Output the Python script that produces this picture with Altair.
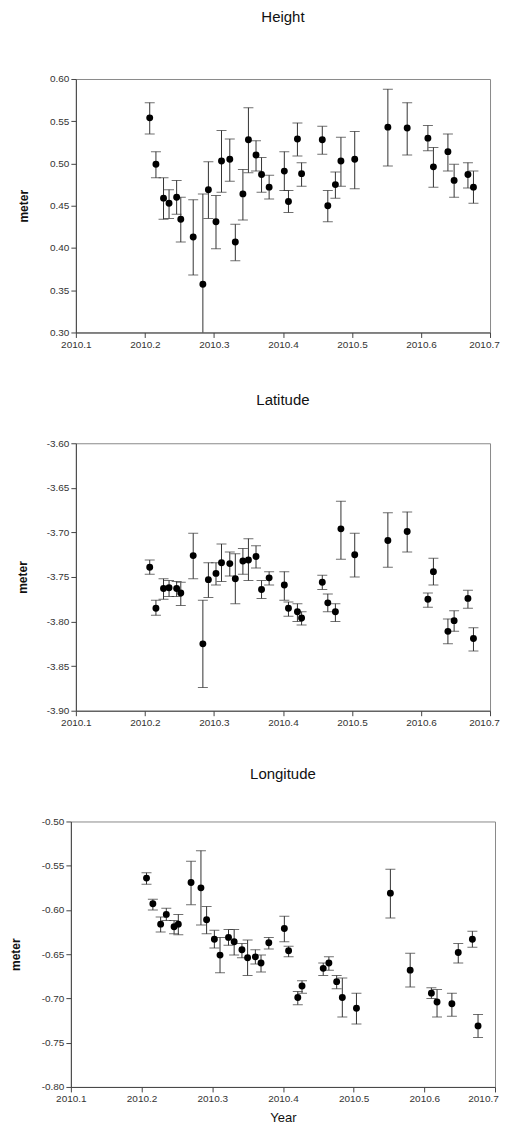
import altair as alt
import pandas as pd

# ---- data ----
years = [2010.207, 2010.216, 2010.227, 2010.235, 2010.246, 2010.252, 2010.270, 2010.284,
         2010.292, 2010.303, 2010.311, 2010.323, 2010.331, 2010.342, 2010.350, 2010.361,
         2010.369, 2010.380, 2010.402, 2010.408, 2010.421, 2010.427, 2010.457, 2010.465,
         2010.476, 2010.484, 2010.504, 2010.552, 2010.580, 2010.610, 2010.618, 2010.639,
         2010.648, 2010.668, 2010.676]

height = [0.554, 0.499, 0.459, 0.453, 0.460, 0.434, 0.413, 0.357, 0.469, 0.431, 0.503, 0.505,
          0.407, 0.464, 0.528, 0.510, 0.487, 0.472, 0.491, 0.455, 0.529, 0.488, 0.528, 0.450,
          0.475, 0.503, 0.505, 0.543, 0.542, 0.530, 0.496, 0.514, 0.480, 0.487, 0.472]
height_hi = [0.572, 0.514, 0.483, 0.469, 0.480, 0.460, 0.457, 0.464, 0.502, 0.462, 0.539, 0.529,
             0.428, 0.493, 0.566, 0.527, 0.507, 0.486, 0.514, 0.468, 0.548, 0.501, 0.544, 0.468,
             0.490, 0.531, 0.538, 0.588, 0.572, 0.545, 0.519, 0.535, 0.499, 0.501, 0.491]
height_lo = [0.535, 0.483, 0.434, 0.435, 0.440, 0.407, 0.368, 0.250, 0.435, 0.399, 0.466, 0.479,
             0.385, 0.433, 0.489, 0.491, 0.466, 0.458, 0.468, 0.442, 0.509, 0.473, 0.511, 0.431,
             0.459, 0.473, 0.470, 0.497, 0.510, 0.515, 0.472, 0.491, 0.460, 0.471, 0.453]

lat = [-3.739, -3.785, -3.763, -3.762, -3.763, -3.768, -3.726, -3.825, -3.753, -3.746, -3.734,
       -3.735, -3.752, -3.732, -3.731, -3.727, -3.764, -3.751, -3.759, -3.785, -3.789, -3.796,
       -3.756, -3.779, -3.789, -3.696, -3.725, -3.709, -3.699, -3.775, -3.744, -3.811, -3.799,
       -3.774, -3.819]
lat_hi = [-3.731, -3.776, -3.752, -3.754, -3.755, -3.756, -3.701, -3.776, -3.734, -3.734, -3.713,
          -3.722, -3.724, -3.718, -3.707, -3.715, -3.754, -3.744, -3.744, -3.778, -3.780, -3.789,
          -3.748, -3.769, -3.780, -3.665, -3.701, -3.678, -3.677, -3.768, -3.729, -3.797, -3.788,
          -3.765, -3.807]
lat_lo = [-3.747, -3.793, -3.775, -3.772, -3.772, -3.782, -3.752, -3.874, -3.773, -3.759, -3.755,
          -3.749, -3.780, -3.747, -3.754, -3.740, -3.774, -3.759, -3.776, -3.794, -3.800, -3.804,
          -3.764, -3.789, -3.800, -3.730, -3.750, -3.739, -3.722, -3.784, -3.759, -3.825, -3.811,
          -3.785, -3.833]

lon = [-0.564, -0.593, -0.616, -0.605, -0.619, -0.616, -0.569, -0.575, -0.611, -0.633, -0.651,
       -0.631, -0.636, -0.645, -0.654, -0.653, -0.660, -0.637, -0.621, -0.646, -0.699, -0.686,
       -0.666, -0.660, -0.681, -0.699, -0.711, -0.581, -0.668, -0.694, -0.704, -0.706, -0.648,
       -0.633, -0.731]
lon_hi = [-0.558, -0.588, -0.608, -0.598, -0.612, -0.605, -0.545, -0.533, -0.596, -0.623, -0.631,
          -0.622, -0.622, -0.638, -0.634, -0.645, -0.651, -0.631, -0.607, -0.641, -0.692, -0.680,
          -0.660, -0.653, -0.674, -0.677, -0.694, -0.554, -0.649, -0.688, -0.690, -0.694, -0.638,
          -0.624, -0.718]
lon_lo = [-0.571, -0.600, -0.625, -0.612, -0.627, -0.628, -0.594, -0.617, -0.627, -0.643, -0.671,
          -0.640, -0.651, -0.654, -0.674, -0.661, -0.670, -0.644, -0.636, -0.653, -0.707, -0.694,
          -0.674, -0.668, -0.689, -0.721, -0.729, -0.609, -0.687, -0.700, -0.721, -0.720, -0.660,
          -0.642, -0.744]

x_ticks = [2010.1, 2010.2, 2010.3, 2010.4, 2010.5, 2010.6, 2010.7]
height_ticks = [0.30, 0.35, 0.40, 0.45, 0.50, 0.55, 0.60]
lat_ticks = [-3.90, -3.85, -3.80, -3.75, -3.70, -3.65, -3.60]
lon_ticks = [-0.80, -0.75, -0.70, -0.65, -0.60, -0.55, -0.50]

FONT = "Liberation Sans"
BAR = "#333333"
YLABEL = "replace(format(datum.value, '.2f'), '\u2212', '-')"


def panel(title, vals, hi, lo, yticks, w, h, t_dist, ytitle_pad, xtitle, last_shift):
    df = pd.DataFrame({"year": years, "v": vals, "hi": hi, "lo": lo})
    xscale = alt.Scale(domain=[x_ticks[0], x_ticks[-1]], nice=False, zero=False)
    yscale = alt.Scale(domain=[yticks[0], yticks[-1]], nice=False, zero=False)
    xaxis = alt.Axis(
        values=x_ticks, format=".1f", title=xtitle, titleFontSize=13,
        titleFontWeight="normal", titlePadding=8, labelFlush=False,
        labelOffset={"condition": {"test": "datum.value > 2010.65", "value": last_shift},
                     "value": 0})
    yaxis = alt.Axis(values=yticks, labelExpr=YLABEL, title="meter", titleFontSize=12,
                     titleFontWeight="bold", titlePadding=ytitle_pad)
    x = alt.X("year:Q", scale=xscale, axis=xaxis)
    base = alt.Chart(df)
    rule = base.mark_rule(color=BAR, strokeWidth=1, clip=True).encode(
        x=x, y=alt.Y("lo:Q", scale=yscale, axis=yaxis), y2="hi:Q")
    cap_hi = base.mark_tick(orient="horizontal", size=10, thickness=1, color=BAR, clip=True).encode(
        x=x, y=alt.Y("hi:Q", scale=yscale, axis=yaxis))
    cap_lo = base.mark_tick(orient="horizontal", size=10, thickness=1, color=BAR, clip=True).encode(
        x=x, y=alt.Y("lo:Q", scale=yscale, axis=yaxis))
    pts = base.mark_circle(size=48, color="black", opacity=1).encode(
        x=x, y=alt.Y("v:Q", scale=yscale, axis=yaxis))
    ttl = alt.Chart(pd.DataFrame({"t": [title]})).mark_text(
        font=FONT, fontSize=15, color="#111111", align="center", baseline="middle"
    ).encode(text="t:N", x=alt.value(w / 2), y=alt.value(-t_dist))
    return alt.layer(rule, cap_hi, cap_lo, pts, ttl).properties(width=w, height=h)


p1 = panel("Height", height, height_hi, height_lo, height_ticks, 415, 254, 62, 19, None, -6)
p2 = panel("Latitude", lat, lat_hi, lat_lo, lat_ticks, 415, 268, 43, 17, None, -6)
p3 = panel("Longitude", lon, lon_hi, lon_lo, lon_ticks, 425, 266, 48, 19, "Year", -12)

chart = alt.concat(
    p1, p2, p3, columns=1, spacing=111, bounds="flush", align="each",
    center={"row": False, "column": True}
).properties(
    padding={"left": 0, "top": 0, "right": 0, "bottom": 0}
).configure_view(
    stroke="#8a8a8a", strokeWidth=1
).configure_axis(
    labelFont=FONT, labelFontSize=10, labelColor="#333333",
    titleFont=FONT, titleColor="#111111",
    domainColor="#444444", tickColor="#444444", tickSize=5, grid=False, labelPadding=2
)

chart.save("out.html", embed_options={"renderer": "svg", "actions": False})
